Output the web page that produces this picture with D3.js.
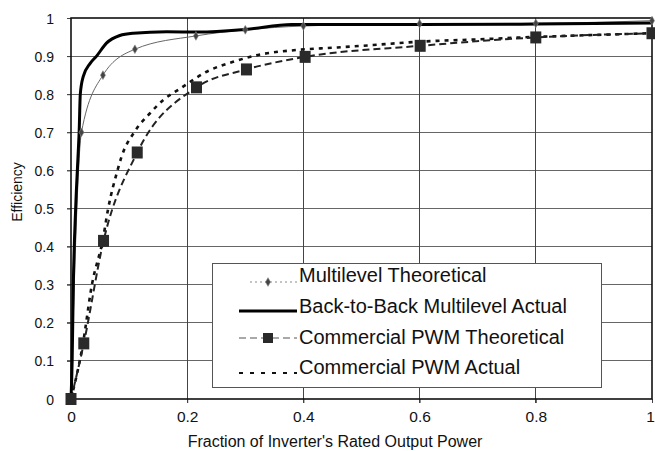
<!DOCTYPE html>
<html>
<head>
<meta charset="utf-8">
<script src="https://cdn.jsdelivr.net/npm/d3@7"></script>
<style>
  html, body { margin: 0; padding: 0; background: #fff; }
  svg { display: block; font-family: "Liberation Sans", Arial, sans-serif; }
</style>
</head>
<body>
<svg id="chart" width="655" height="451"></svg>
<script>
// ---- data ----
const xTicks = [0, 0.2, 0.4, 0.6, 0.8, 1];
const xTickLabels = ["0", "0.2", "0.4", "0.6", "0.8", "1"];
const yTicks = [0, 0.1, 0.2, 0.3, 0.4, 0.5, 0.6, 0.7, 0.8, 0.9, 1];
const yTickLabels = ["0", "0.1", "0.2", "0.3", "0.4", "0.5", "0.6", "0.7", "0.8", "0.9", "1"];

const seriesNames = ["Multilevel Theoretical", "Back-to-Back Multilevel Actual",
                     "Commercial PWM Theoretical", "Commercial PWM Actual"];

const mlTheoX = [0, 0.018, 0.055, 0.11, 0.215, 0.30, 0.40, 0.60, 0.80, 1.00];
const mlTheoY = [0, 0.70, 0.85, 0.918, 0.953, 0.969, 0.979, 0.985, 0.986, 0.993];

const b2bX = [0, 0.002, 0.004, 0.008, 0.0125, 0.014, 0.016, 0.021, 0.033, 0.044, 0.061, 0.084, 0.107, 0.165, 0.22, 0.30, 0.38, 0.60, 0.80, 1.00];
const b2bY = [0, 0.10, 0.30, 0.50, 0.65, 0.70, 0.80, 0.846, 0.881, 0.90, 0.934, 0.954, 0.960, 0.964, 0.963, 0.970, 0.983, 0.983, 0.984, 0.987];

const pwmTheoX = [0, 0.022, 0.056, 0.114, 0.216, 0.302, 0.403, 0.601, 0.80, 1.00];
const pwmTheoY = [0, 0.146, 0.415, 0.647, 0.818, 0.865, 0.898, 0.927, 0.949, 0.960];

const pwmActX = [0, 0.02, 0.036, 0.055, 0.064, 0.08, 0.087, 0.11, 0.136, 0.159, 0.188, 0.236, 0.279, 0.322, 0.388, 0.451, 0.52, 0.572, 0.629, 0.704, 0.773, 0.85, 1.00];
const pwmActY = [0, 0.14, 0.30, 0.42, 0.50, 0.60, 0.636, 0.703, 0.75, 0.785, 0.815, 0.861, 0.885, 0.903, 0.916, 0.922, 0.929, 0.935, 0.940, 0.944, 0.949, 0.953, 0.960];

// ---- layout ----
const svg = d3.select("#chart");
const x = d3.scaleLinear().domain([0, 1]).range([71, 652]);
const y = d3.scaleLinear().domain([0, 1]).range([399, 18]);

const zip = (xs, ys) => xs.map((v, i) => [v, ys[i]]);
const line = d3.line().x(d => x(d[0])).y(d => y(d[1])).curve(d3.curveMonotoneX);

// gridlines
svg.append("g").selectAll("line.h").data(yTicks.filter(v => v > 0 && v < 1)).join("line")
  .attr("x1", x(0) - 4).attr("x2", x(1))
  .attr("y1", d => y(d)).attr("y2", d => y(d))
  .attr("stroke", "#666").attr("stroke-width", 1).attr("shape-rendering", "crispEdges");
svg.append("g").selectAll("line.v").data(xTicks.filter(v => v > 0 && v < 1)).join("line")
  .attr("x1", d => x(d)).attr("x2", d => x(d))
  .attr("y1", y(1)).attr("y2", y(0) + 4)
  .attr("stroke", "#444").attr("stroke-width", 1).attr("shape-rendering", "crispEdges");

// axes (ticks + labels)
const yAxis = d3.axisLeft(y).tickValues(yTicks).tickSize(4).tickSizeOuter(0)
  .tickFormat((d, i) => yTickLabels[i]);
const gy = svg.append("g").attr("transform", `translate(${x(0)},0)`).call(yAxis);
gy.select(".domain").remove();
gy.selectAll("line").attr("stroke", "#444");
gy.selectAll("text").attr("font-size", 14).attr("fill", "#111")
  .attr("font-family", "Liberation Sans, Arial, sans-serif").attr("x", -17).attr("dy", "0.36em");

const xAxis = d3.axisBottom(x).tickValues(xTicks).tickSize(4).tickSizeOuter(0)
  .tickFormat((d, i) => xTickLabels[i]);
const gx = svg.append("g").attr("transform", `translate(0,${y(0)})`).call(xAxis);
gx.select(".domain").remove();
gx.selectAll("line").attr("stroke", "#444");
gx.selectAll("text").attr("font-size", 15.5).attr("fill", "#111")
  .attr("font-family", "Liberation Sans, Arial, sans-serif").attr("y", 12).attr("dy", "0.71em")
  .attr("x", d => d === 1 ? -2 : 0);

// frame
svg.append("rect").attr("x", x(0)).attr("y", y(1))
  .attr("width", x(1) - x(0)).attr("height", y(0) - y(1))
  .attr("fill", "none").attr("stroke", "#111").attr("stroke-width", 1.6);

// axis titles
svg.append("text").attr("x", 335).attr("y", 447).attr("text-anchor", "middle")
  .attr("font-size", 16).attr("fill", "#111").text("Fraction of Inverter's Rated Output Power");
svg.append("text").attr("transform", "translate(22,192) rotate(-90)").attr("text-anchor", "middle")
  .attr("font-size", 14).attr("fill", "#111").text("Efficiency");

// series
const plot = svg.append("g");
plot.append("path").datum(zip(pwmActX, pwmActY)).attr("d", line)
  .attr("fill", "none").attr("stroke", "#111").attr("stroke-width", 2.6).attr("stroke-dasharray", "4,5");
plot.append("path").datum(zip(pwmTheoX, pwmTheoY)).attr("d", line)
  .attr("fill", "none").attr("stroke", "#222").attr("stroke-width", 2).attr("stroke-dasharray", "7,4");
plot.append("path").datum(zip(mlTheoX, mlTheoY)).attr("d", line)
  .attr("fill", "none").attr("stroke", "#666").attr("stroke-width", 1);
plot.append("path").datum(zip(b2bX, b2bY)).attr("d", line)
  .attr("fill", "none").attr("stroke", "#000").attr("stroke-width", 3);

const diamond = d3.symbol().type(d3.symbolDiamond).size(22);
plot.selectAll("path.md").data(zip(mlTheoX, mlTheoY)).join("path")
  .attr("d", diamond).attr("transform", d => `translate(${x(d[0])},${y(d[1])})`)
  .attr("fill", "#444").attr("stroke", "#888").attr("stroke-width", 0.6);
plot.selectAll("rect.sq").data(zip(pwmTheoX, pwmTheoY)).join("rect")
  .attr("x", d => x(d[0]) - 5.5).attr("y", d => y(d[1]) - 6)
  .attr("width", 11).attr("height", 12).attr("fill", "#2a2a2a");

// legend
const lg = svg.append("g");
lg.append("rect").attr("x", 212.5).attr("y", 263.5).attr("width", 389).attr("height", 124)
  .attr("fill", "#fff").attr("stroke", "#555").attr("stroke-width", 1);
const rowBase = [282, 312.5, 343.5, 374];
const rowSample = [282, 311, 338, 373];
seriesNames.forEach((name, i) => {
  lg.append("text").attr("x", 299).attr("y", rowBase[i]).attr("font-size", 20)
    .attr("fill", "#111").text(name);
});
// sample 1: thin dotted with diamond
lg.append("line").attr("x1", 250).attr("x2", 297).attr("y1", rowSample[0]).attr("y2", rowSample[0])
  .attr("stroke", "#888").attr("stroke-width", 1).attr("stroke-dasharray", "2,3");
lg.append("path").attr("d", diamond).attr("transform", `translate(268,${rowSample[0]})`)
  .attr("fill", "#444").attr("stroke", "#888").attr("stroke-width", 0.6);
// sample 2: thick solid
lg.append("line").attr("x1", 239).attr("x2", 297).attr("y1", rowSample[1]).attr("y2", rowSample[1])
  .attr("stroke", "#000").attr("stroke-width", 3);
// sample 3: dashed with square
lg.append("line").attr("x1", 239).attr("x2", 297).attr("y1", rowSample[2]).attr("y2", rowSample[2])
  .attr("stroke", "#555").attr("stroke-width", 1.2).attr("stroke-dasharray", "7,4");
lg.append("rect").attr("x", 263).attr("y", rowSample[2] - 5).attr("width", 10).attr("height", 10)
  .attr("fill", "#2a2a2a");
// sample 4: short dashes
lg.append("line").attr("x1", 239).attr("x2", 297).attr("y1", rowSample[3]).attr("y2", rowSample[3])
  .attr("stroke", "#111").attr("stroke-width", 2).attr("stroke-dasharray", "4,7");
</script>
</body>
</html>
